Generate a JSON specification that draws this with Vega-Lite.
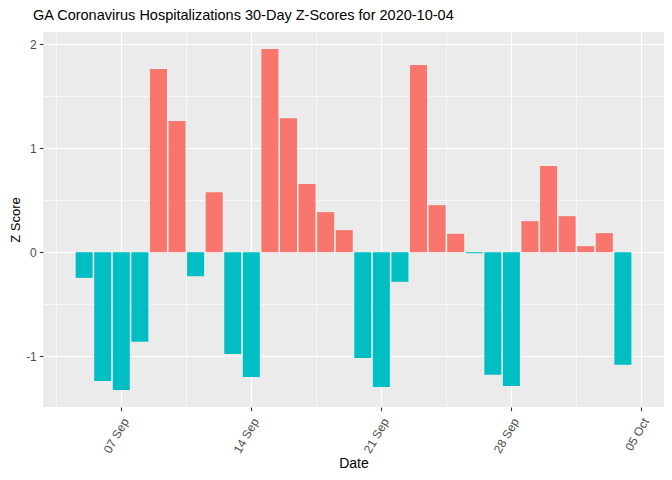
{
  "$schema": "https://vega.github.io/schema/vega-lite/v6.json",
  "width": 621,
  "height": 375,
  "autosize": {"type": "none"},
  "padding": {"left": 43, "top": 32, "right": 8, "bottom": 73},
  "background": "white",
  "title": {
    "text": "GA Coronavirus Hospitalizations 30-Day Z-Scores for 2020-10-04",
    "anchor": "start",
    "frame": "group",
    "dx": -10,
    "offset": 9,
    "font": "Liberation Sans",
    "fontSize": 14.5,
    "fontWeight": "normal",
    "color": "black"
  },
  "config": {
    "view": {"fill": "#EBEBEB", "stroke": null},
    "axis": {
      "domain": false,
      "gridColor": "white",
      "tickColor": "#333333",
      "tickSize": 3.7,
      "labelFont": "Liberation Sans",
      "labelFontSize": 12,
      "labelColor": "#4D4D4D",
      "titleFont": "Liberation Sans",
      "titleFontSize": 14,
      "titleFontWeight": "normal",
      "titleColor": "black"
    }
  },
  "data": {
    "values": [
      {"date": "2020-09-05", "z": -0.247},
      {"date": "2020-09-06", "z": -1.237},
      {"date": "2020-09-07", "z": -1.324},
      {"date": "2020-09-08", "z": -0.862},
      {"date": "2020-09-09", "z": 1.760},
      {"date": "2020-09-10", "z": 1.260},
      {"date": "2020-09-11", "z": -0.231},
      {"date": "2020-09-12", "z": 0.577},
      {"date": "2020-09-13", "z": -0.978},
      {"date": "2020-09-14", "z": -1.199},
      {"date": "2020-09-15", "z": 1.952},
      {"date": "2020-09-16", "z": 1.288},
      {"date": "2020-09-17", "z": 0.654},
      {"date": "2020-09-18", "z": 0.385},
      {"date": "2020-09-19", "z": 0.212},
      {"date": "2020-09-20", "z": -1.016},
      {"date": "2020-09-21", "z": -1.295},
      {"date": "2020-09-22", "z": -0.285},
      {"date": "2020-09-23", "z": 1.798},
      {"date": "2020-09-24", "z": 0.452},
      {"date": "2020-09-25", "z": 0.176},
      {"date": "2020-09-26", "z": -0.01},
      {"date": "2020-09-27", "z": -1.179},
      {"date": "2020-09-28", "z": -1.285},
      {"date": "2020-09-29", "z": 0.298},
      {"date": "2020-09-30", "z": 0.827},
      {"date": "2020-10-01", "z": 0.346},
      {"date": "2020-10-02", "z": 0.058},
      {"date": "2020-10-03", "z": 0.183},
      {"date": "2020-10-04", "z": -1.083}
    ]
  },
  "mark": {"type": "bar", "size": 17},
  "encoding": {
    "x": {
      "field": "date",
      "type": "temporal",
      "title": "Date",
      "scale": {
        "type": "utc",
        "domain": [
          {"year": 2020, "month": 9, "date": 3, "hours": 1, "minutes": 19, "utc": true},
          {"year": 2020, "month": 10, "date": 5, "hours": 22, "minutes": 41, "utc": true}
        ],
        "nice": false
      },
      "axis": {
        "values": [
          {"year": 2020, "month": 9, "date": 3, "hours": 12, "utc": true},
          {"year": 2020, "month": 9, "date": 7, "utc": true},
          {"year": 2020, "month": 9, "date": 10, "hours": 12, "utc": true},
          {"year": 2020, "month": 9, "date": 14, "utc": true},
          {"year": 2020, "month": 9, "date": 17, "hours": 12, "utc": true},
          {"year": 2020, "month": 9, "date": 21, "utc": true},
          {"year": 2020, "month": 9, "date": 24, "hours": 12, "utc": true},
          {"year": 2020, "month": 9, "date": 28, "utc": true},
          {"year": 2020, "month": 10, "date": 1, "hours": 12, "utc": true},
          {"year": 2020, "month": 10, "date": 5, "utc": true}
        ],
        "labelExpr": "utchours(datum.value) === 12 ? '' : utcFormat(datum.value, '%d %b')",
        "labelAngle": -60,
        "labelAlign": "right",
        "labelBaseline": "middle",
        "labelPadding": 8,
        "labelOffset": 4,
        "gridWidth": {"condition": {"test": "utchours(datum.value) === 12", "value": 0.55}, "value": 1.1},
        "tickOpacity": {"condition": {"test": "utchours(datum.value) === 12", "value": 0}, "value": 1},
        "tickWidth": 1.1,
        "titlePadding": 2
      }
    },
    "y": {
      "field": "z",
      "type": "quantitative",
      "title": "Z Score",
      "scale": {"domain": [-1.488, 2.116], "nice": false, "zero": false},
      "axis": {
        "values": [-1.5, -1, -0.5, 0, 0.5, 1, 1.5, 2],
        "labelExpr": "datum.value % 1 === 0 ? toString(datum.value) : ''",
        "gridWidth": {"condition": {"test": "datum.value % 1 !== 0", "value": 0.55}, "value": 1.1},
        "tickOpacity": {"condition": {"test": "datum.value % 1 !== 0", "value": 0}, "value": 1},
        "tickWidth": 1.1,
        "labelPadding": 3,
        "titleFontSize": 13,
        "titlePadding": 3
      }
    },
    "fill": {
      "condition": {"test": "datum.z > 0", "value": "#F8766D"},
      "value": "#00BFC4"
    }
  }
}
